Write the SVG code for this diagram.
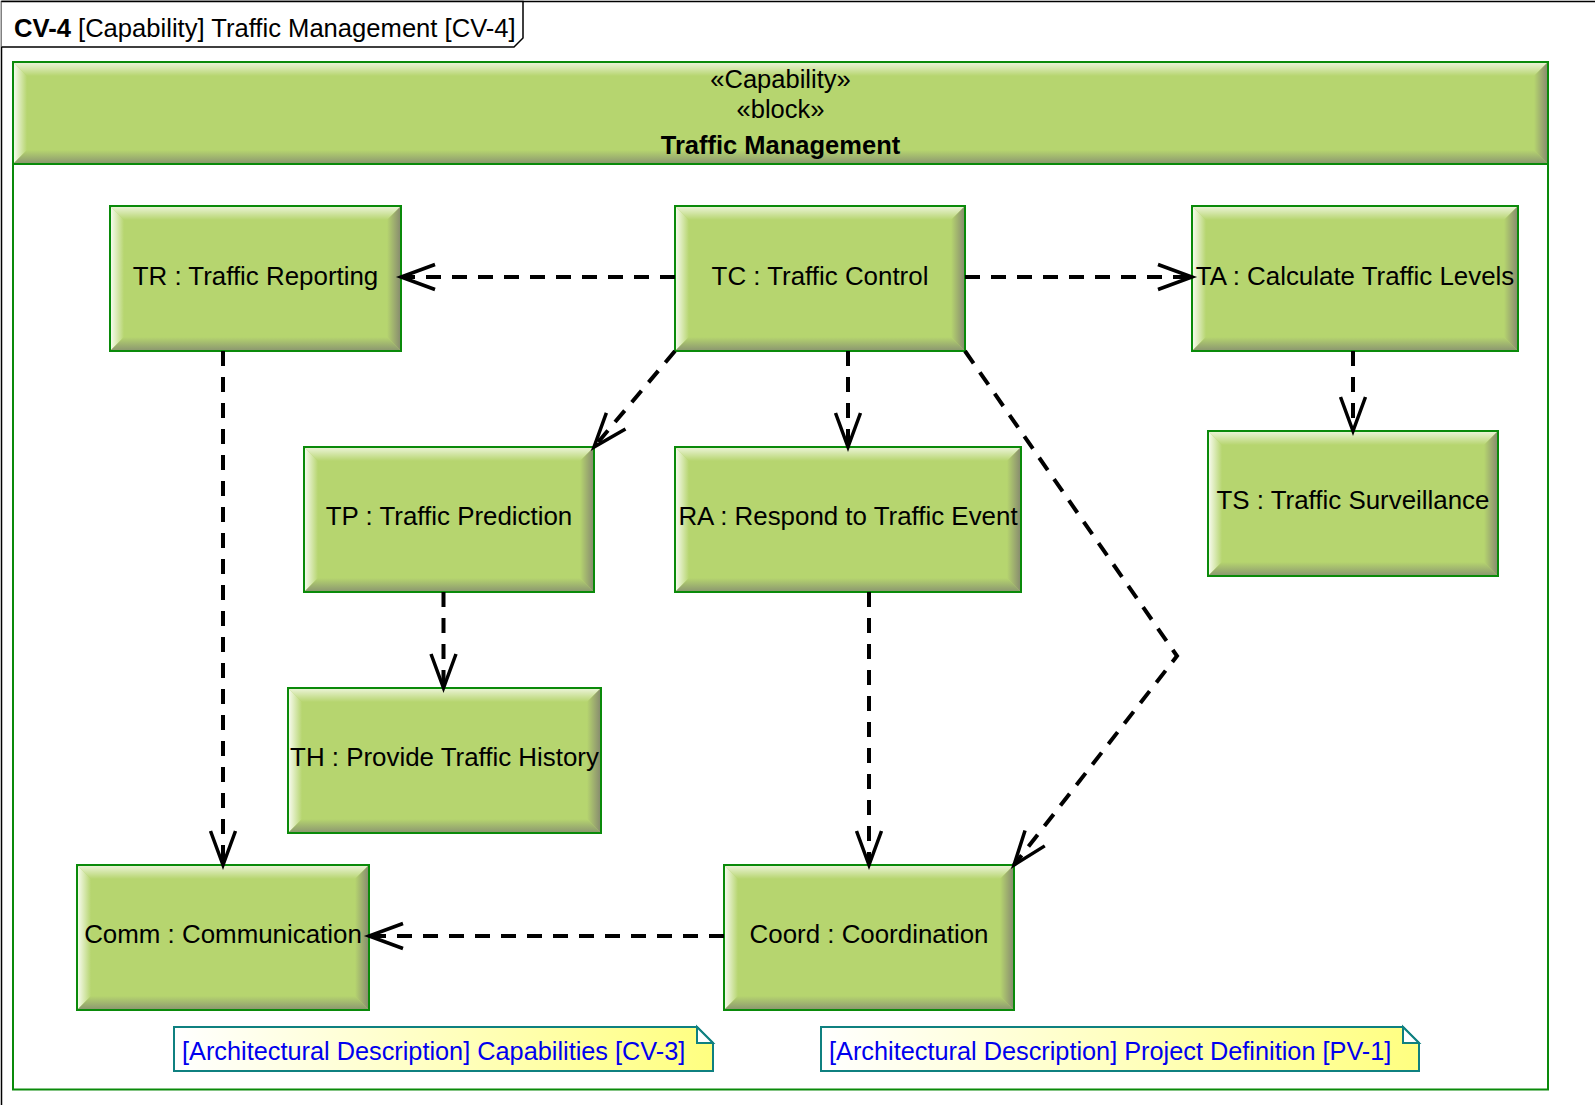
<svg xmlns="http://www.w3.org/2000/svg" width="1595" height="1105" viewBox="0 0 1595 1105">
  <style>
    text { font-family: "Liberation Sans", Arial, sans-serif; fill: #000; }
    .lbl { font-size: 25.9px; text-anchor: middle; }
    .hdr { font-size: 25.5px; text-anchor: middle; }
    .note-txt { font-size: 25.3px; fill: #0000ee; }
    .face { fill: #b6d56f; }
    .edge { fill: none; stroke: #0a8a0a; stroke-width: 2; }
    .bt { fill: url(#bevTop); }
    .bl { fill: url(#bevLeft); }
    .bb { fill: url(#bevBottom); }
    .br { fill: url(#bevRight); }
    .dep { fill: none; stroke: #000; stroke-width: 4; stroke-dasharray: 15 11; marker-end: url(#open); }
    .note { fill: url(#noteFill); stroke: #0f8080; stroke-width: 2; }
    .fold { fill: #fff; stroke: #0f8080; stroke-width: 2; }
  </style>
  <defs>
    <linearGradient id="bevTop" x1="0" y1="0" x2="0" y2="1">
      <stop offset="0" stop-color="#eef5dc"/>
      <stop offset="1" stop-color="#b6d56f"/>
    </linearGradient>
    <linearGradient id="bevLeft" x1="0" y1="0" x2="1" y2="0">
      <stop offset="0" stop-color="#fbfdf5"/>
      <stop offset="1" stop-color="#b6d56f"/>
    </linearGradient>
    <linearGradient id="bevBottom" x1="0" y1="0" x2="0" y2="1">
      <stop offset="0" stop-color="#b6d56f"/>
      <stop offset="1" stop-color="#8a9570"/>
    </linearGradient>
    <linearGradient id="bevRight" x1="0" y1="0" x2="1" y2="0">
      <stop offset="0" stop-color="#b6d56f"/>
      <stop offset="1" stop-color="#86886f"/>
    </linearGradient>
    <linearGradient id="noteFill" x1="0" y1="0" x2="1" y2="0">
      <stop offset="0" stop-color="#ffffff"/>
      <stop offset="1" stop-color="#ffff80"/>
    </linearGradient>
    <marker id="open" markerUnits="userSpaceOnUse" orient="auto" refX="0" refY="0" markerWidth="40" markerHeight="30" viewBox="-40 -15 40 30" overflow="visible">
      <path d="M-34,-12.5 L0,0 L-34,12.5" fill="none" stroke="#000" stroke-width="3.5" stroke-dasharray="none" stroke-linejoin="miter"/>
    </marker>
  </defs>

  <!-- diagram frame and title tab -->
  <g id="frame">
    <path d="M1.5,1105 V1.5 H1595" fill="none" stroke="#000" stroke-width="1.5"/>
    <path d="M1.5,1.5 H523 V38 L514,47 H1.5" fill="#fff" stroke="#000" stroke-width="1.5"/>
    <text x="14" y="37" style="font-size:25.6px"><tspan font-weight="bold">CV-4</tspan> [Capability] Traffic Management [CV-4]</text>
  </g>

  <!-- owning capability block -->
  <g id="traffic-management">
    <rect x="13" y="62" width="1535" height="1027.5" fill="#fff" stroke="#0a8a0a" stroke-width="2"/>
    <rect class="face" x="13" y="62" width="1535" height="102"/>
    <polygon class="bt" points="13,62 1548,62 1534,76 27,76"/>
    <polygon class="bl" points="13,62 27,76 27,150 13,164"/>
    <polygon class="bb" points="13,164 27,150 1534,150 1548,164"/>
    <polygon class="br" points="1548,62 1548,164 1534,150 1534,76"/>
    <rect class="edge" x="13" y="62" width="1535" height="102"/>
    <text class="hdr" x="780.5" y="88">«Capability»</text>
    <text class="hdr" x="780.5" y="118">«block»</text>
    <text class="hdr" x="780.5" y="154" font-weight="bold">Traffic Management</text>
  </g>

  <!-- part nodes -->
  <g id="TR">
    <rect class="face" x="110" y="206" width="291" height="145"/>
    <polygon class="bt" points="110,206 401,206 387,220 124,220"/>
    <polygon class="bl" points="110,206 124,220 124,337 110,351"/>
    <polygon class="bb" points="110,351 124,337 387,337 401,351"/>
    <polygon class="br" points="401,206 401,351 387,337 387,220"/>
    <rect class="edge" x="110" y="206" width="291" height="145"/>
    <text class="lbl" x="255.5" y="284.5">TR : Traffic Reporting</text>
  </g>
  <g id="TC">
    <rect class="face" x="675" y="206" width="290" height="145"/>
    <polygon class="bt" points="675,206 965,206 951,220 689,220"/>
    <polygon class="bl" points="675,206 689,220 689,337 675,351"/>
    <polygon class="bb" points="675,351 689,337 951,337 965,351"/>
    <polygon class="br" points="965,206 965,351 951,337 951,220"/>
    <rect class="edge" x="675" y="206" width="290" height="145"/>
    <text class="lbl" x="820" y="284.5">TC : Traffic Control</text>
  </g>
  <g id="TA">
    <rect class="face" x="1192" y="206" width="326" height="145"/>
    <polygon class="bt" points="1192,206 1518,206 1504,220 1206,220"/>
    <polygon class="bl" points="1192,206 1206,220 1206,337 1192,351"/>
    <polygon class="bb" points="1192,351 1206,337 1504,337 1518,351"/>
    <polygon class="br" points="1518,206 1518,351 1504,337 1504,220"/>
    <rect class="edge" x="1192" y="206" width="326" height="145"/>
    <text class="lbl" x="1355" y="284.5">TA : Calculate Traffic Levels</text>
  </g>
  <g id="TP">
    <rect class="face" x="304" y="447" width="290" height="145"/>
    <polygon class="bt" points="304,447 594,447 580,461 318,461"/>
    <polygon class="bl" points="304,447 318,461 318,578 304,592"/>
    <polygon class="bb" points="304,592 318,578 580,578 594,592"/>
    <polygon class="br" points="594,447 594,592 580,578 580,461"/>
    <rect class="edge" x="304" y="447" width="290" height="145"/>
    <text class="lbl" x="449" y="525">TP : Traffic Prediction</text>
  </g>
  <g id="RA">
    <rect class="face" x="675" y="447" width="346" height="145"/>
    <polygon class="bt" points="675,447 1021,447 1007,461 689,461"/>
    <polygon class="bl" points="675,447 689,461 689,578 675,592"/>
    <polygon class="bb" points="675,592 689,578 1007,578 1021,592"/>
    <polygon class="br" points="1021,447 1021,592 1007,578 1007,461"/>
    <rect class="edge" x="675" y="447" width="346" height="145"/>
    <text class="lbl" x="848" y="525">RA : Respond to Traffic Event</text>
  </g>
  <g id="TS">
    <rect class="face" x="1208" y="431" width="290" height="145"/>
    <polygon class="bt" points="1208,431 1498,431 1484,445 1222,445"/>
    <polygon class="bl" points="1208,431 1222,445 1222,562 1208,576"/>
    <polygon class="bb" points="1208,576 1222,562 1484,562 1498,576"/>
    <polygon class="br" points="1498,431 1498,576 1484,562 1484,445"/>
    <rect class="edge" x="1208" y="431" width="290" height="145"/>
    <text class="lbl" x="1353" y="509">TS : Traffic Surveillance</text>
  </g>
  <g id="TH">
    <rect class="face" x="288" y="688" width="313" height="145"/>
    <polygon class="bt" points="288,688 601,688 587,702 302,702"/>
    <polygon class="bl" points="288,688 302,702 302,819 288,833"/>
    <polygon class="bb" points="288,833 302,819 587,819 601,833"/>
    <polygon class="br" points="601,688 601,833 587,819 587,702"/>
    <rect class="edge" x="288" y="688" width="313" height="145"/>
    <text class="lbl" x="444.5" y="766">TH : Provide Traffic History</text>
  </g>
  <g id="Comm">
    <rect class="face" x="77" y="865" width="292" height="145"/>
    <polygon class="bt" points="77,865 369,865 355,879 91,879"/>
    <polygon class="bl" points="77,865 91,879 91,996 77,1010"/>
    <polygon class="bb" points="77,1010 91,996 355,996 369,1010"/>
    <polygon class="br" points="369,865 369,1010 355,996 355,879"/>
    <rect class="edge" x="77" y="865" width="292" height="145"/>
    <text class="lbl" x="223" y="943">Comm : Communication</text>
  </g>
  <g id="Coord">
    <rect class="face" x="724" y="865" width="290" height="145"/>
    <polygon class="bt" points="724,865 1014,865 1000,879 738,879"/>
    <polygon class="bl" points="724,865 738,879 738,996 724,1010"/>
    <polygon class="bb" points="724,1010 738,996 1000,996 1014,1010"/>
    <polygon class="br" points="1014,865 1014,1010 1000,996 1000,879"/>
    <rect class="edge" x="724" y="865" width="290" height="145"/>
    <text class="lbl" x="869" y="943">Coord : Coordination</text>
  </g>

  <!-- diagram reference notes -->
  <g id="note-cv3">
    <path class="note" d="M174,1027 H697 L713,1043 V1071 H174 Z"/>
    <path class="fold" d="M697,1027 V1043 H713 Z"/>
    <text class="note-txt" x="182" y="1060">[Architectural Description] Capabilities [CV-3]</text>
  </g>
  <g id="note-pv1">
    <path class="note" d="M821,1027 H1403 L1419,1043 V1071 H821 Z"/>
    <path class="fold" d="M1403,1027 V1043 H1419 Z"/>
    <text class="note-txt" x="829" y="1060">[Architectural Description] Project Definition [PV-1]</text>
  </g>

  <!-- dependency connectors -->
  <g id="connectors">
    <path class="dep" d="M675,277 H401"/>
    <path class="dep" d="M965,277 H1192"/>
    <path class="dep" d="M675,351 L594,447"/>
    <path class="dep" d="M848,351 V447"/>
    <path class="dep" d="M965,351 L1177,656 L1014,865"/>
    <path class="dep" d="M1353,351 V431"/>
    <path class="dep" d="M223,351 V865"/>
    <path class="dep" d="M443.5,592 V688"/>
    <path class="dep" d="M869,592 V865"/>
    <path class="dep" d="M724,936 H369"/>
  </g>
</svg>
